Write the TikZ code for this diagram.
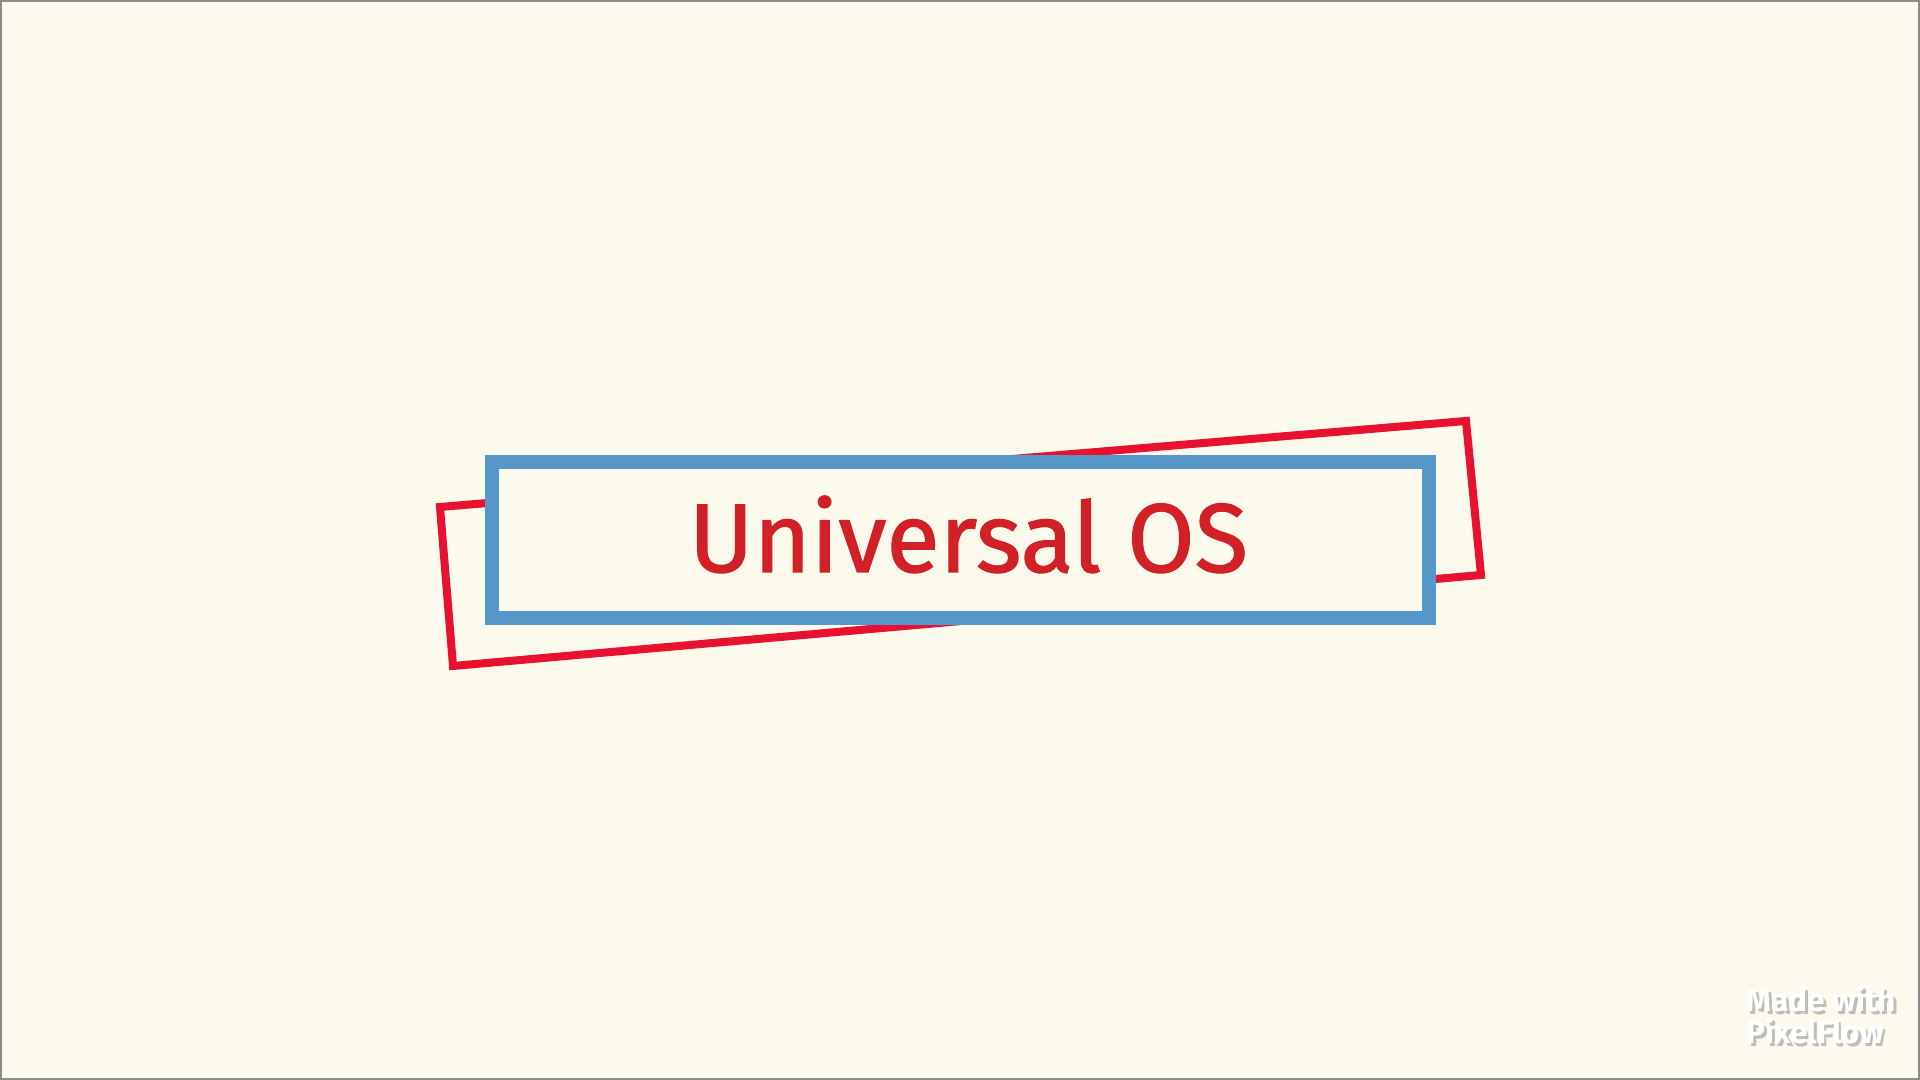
\documentclass[tikz,border=0pt]{standalone}
\usepackage{fontspec}
\setmainfont{Fira Sans}[BoldFont=* Bold]
\newfontfamily\titlefont{Fira Sans}[FakeBold=1.2]
\definecolor{paper}{HTML}{FCFAEC}
\definecolor{framered}{HTML}{E81230}
\definecolor{frameblue}{HTML}{5597C8}
\definecolor{titlered}{HTML}{D22027}
\tikzset{
  redframe/.style={draw=framered, line width=0.08cm, line join=miter},
  blueframe/.style={draw=frameblue, fill=paper, line width=0.14cm, inner sep=0pt,
    minimum width=9.37cm, minimum height=1.555cm},
  titletext/.style={text=titlered, inner sep=0pt, font=\titlefont\fontsize{27.8}{30}\selectfont},
  marktext/.style={align=left, inner sep=0pt, font=\bfseries\fontsize{9}{9.1}\selectfont}
}
\begin{document}
\begin{tikzpicture}[x=0.01cm, y=-0.01cm]
    \fill[paper] (0,0) rectangle (1920,1080);
    \draw[gray!90, line width=0.02cm] (1,1) rectangle (1919,1079);
    % tilted red frame behind
    \draw[redframe] (440,507) -- (1466,421) -- (1481,575) -- (453,666) -- cycle;
    % blue frame and title
    \node[blueframe] (frame) at (960.5,540) {};
    \node[titletext, anchor=base] (title) at (968.5,572) {Universal OS};
    % watermark
    \node[marktext, text=black!45, opacity=0.55, anchor=base west] (markshadow) at (1748.5,1047) {Made with\\PixelFlow};
    \node[marktext, text=white, anchor=base west] (mark) at (1746,1044) {Made with\\PixelFlow};
\end{tikzpicture}
\end{document}
